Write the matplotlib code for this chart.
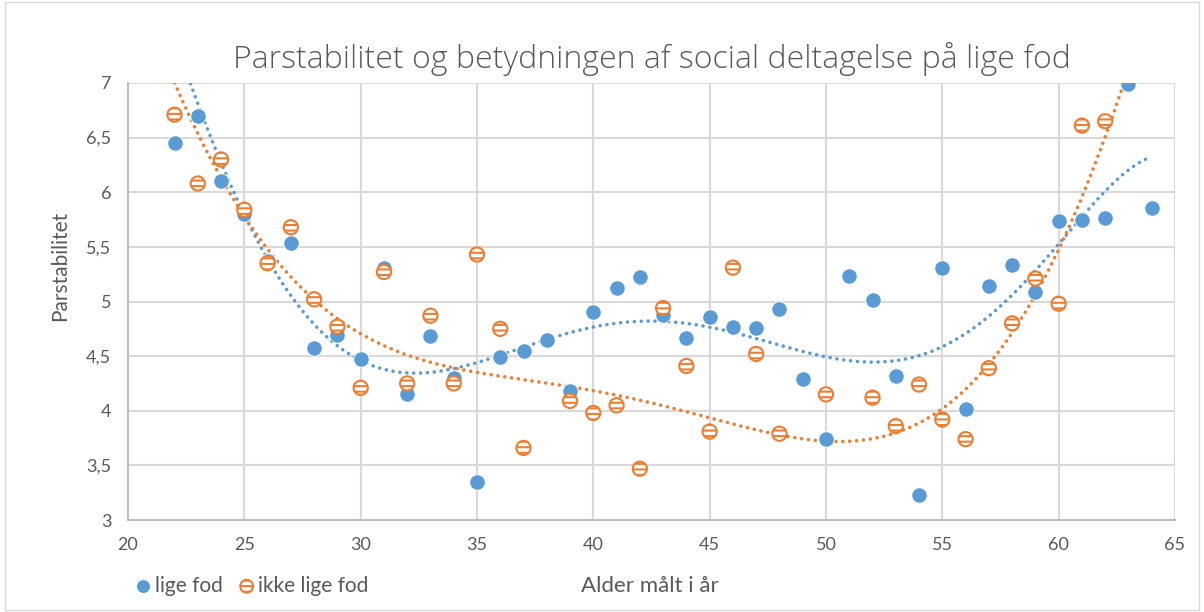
import numpy as np
import matplotlib.pyplot as plt
from matplotlib.patches import Rectangle

# lige fod (blue)
age_lige = [22, 23, 24, 25, 26, 27, 28, 29, 30, 31, 32, 33, 34, 35, 36, 37, 38, 39, 40, 41, 42,
            43, 44, 45, 46, 47, 48, 49, 50, 51, 52, 53, 54, 55, 56, 57, 58, 59, 60, 61, 62, 63, 64]
val_lige = [6.45, 6.70, 6.10, 5.80, 5.37, 5.54, 4.57, 4.69, 4.47, 5.31, 4.15, 4.68, 4.30, 3.35,
            4.49, 4.55, 4.65, 4.18, 4.90, 5.12, 5.22, 4.88, 4.67, 4.86, 4.77, 4.76, 4.93, 4.29,
            3.74, 5.23, 5.01, 4.32, 3.23, 5.31, 4.02, 5.14, 5.33, 5.09, 5.74, 5.75, 5.76, 6.99, 5.86]

# ikke lige fod (orange)
age_ikke = [22, 23, 24, 25, 26, 27, 28, 29, 30, 31, 32, 33, 34, 35, 36, 37, 39, 40, 41, 42, 43,
            44, 45, 46, 47, 48, 50, 52, 53, 54, 55, 56, 57, 58, 59, 60, 61, 62]
val_ikke = [6.71, 6.08, 6.30, 5.84, 5.35, 5.68, 5.02, 4.77, 4.21, 5.27, 4.25, 4.87, 4.25, 5.43,
            4.75, 3.66, 4.09, 3.98, 4.05, 3.47, 4.94, 4.41, 3.81, 5.31, 4.52, 3.79, 4.15, 4.12,
            3.86, 4.24, 3.92, 3.74, 4.39, 4.80, 5.21, 4.98, 6.61, 6.65]

# trendlines (polynomial)
trend_x_lige = [22.75, 23.5, 24.1, 25, 26, 27, 28, 29, 30, 32, 34, 36, 38, 40, 42, 44, 46, 48,
                50, 52, 54, 55, 57, 59, 60, 62, 64]
trend_lige = [6.97, 6.51, 6.20, 5.83, 5.41, 5.04, 4.79, 4.58, 4.46, 4.35, 4.37, 4.53, 4.65, 4.77,
              4.82, 4.79, 4.72, 4.60, 4.49, 4.45, 4.50, 4.58, 4.89, 5.26, 5.54, 6.00, 6.33]
trend_x_ikke = [22, 23, 24, 25, 26, 28, 30, 32, 34.3, 36, 38, 40, 42, 44, 45, 48, 50, 50.9, 52.4,
                55, 57, 59, 60, 62, 62.8]
trend_ikke = [7.00, 6.54, 6.11, 5.84, 5.44, 5.02, 4.71, 4.50, 4.37, 4.32, 4.26, 4.20, 4.10, 3.99,
              3.92, 3.77, 3.71, 3.71, 3.80, 4.03, 4.42, 5.01, 5.52, 6.50, 7.00]

blue = '#5B9BD5'
orange = '#ED7D31'
grey = '#595959'

plt.rcParams['font.family'] = ['Lato', 'DejaVu Sans']
plt.rcParams['hatch.linewidth'] = 1.5

fig = plt.figure(figsize=(12.04, 6.12), dpi=100)
ax = fig.add_axes([0.1063, 0.1503, 0.8696, 0.7141])

for tx, ty, col, x0, x1 in [(trend_x_lige, trend_lige, blue, 22, 64),
                            (trend_x_ikke, trend_ikke, orange, 22, 63)]:
    coef = np.polyfit(tx, ty, 6)
    xs = np.linspace(x0, x1, 400)
    ax.plot(xs, np.polyval(coef, xs), color=col, lw=2.6,
            linestyle=(0, (0.01, 1.9)), dash_capstyle='round', zorder=2)

ax.scatter(age_lige, val_lige, s=125, color=blue, edgecolors='white', linewidths=0.7,
           zorder=3, label='lige fod')
ax.scatter(age_ikke, val_ikke, s=105, facecolors='white', edgecolors=orange, linewidths=1.5,
           hatch='---', zorder=4, label='ikke lige fod')

ax.set_xlim(20, 65)
ax.set_ylim(3, 7)
ax.set_xticks(range(20, 70, 5))
ax.set_yticks(np.arange(3, 7.01, 0.5))
ax.set_yticklabels([f'{v:g}'.replace('.', ',') for v in np.arange(3, 7.01, 0.5)])
ax.grid(True, color='#D9D9D9', lw=1.5)
ax.set_axisbelow(True)
for s in ['top', 'right']:
    ax.spines[s].set_visible(False)
for s in ['left', 'bottom']:
    ax.spines[s].set_color('#BFBFBF')
    ax.spines[s].set_linewidth(1.5)
ax.tick_params(length=0, labelsize=13, labelcolor=grey, pad=12)

ax.set_title('Parstabilitet og betydningen af social deltagelse på lige fod',
             fontsize=23, color=grey, pad=11, family=['Open Sans', 'DejaVu Sans'],
             fontweight='light')
fig.text(0.05, 0.565, 'Parstabilitet', fontsize=15, color=grey, rotation=90,
         ha='center', va='center')
fig.text(0.54, 0.043, 'Alder målt i år', fontsize=16, color=grey, ha='center', va='center')

fig.legend(loc='center left', bbox_to_anchor=(0.094, 0.043), ncol=2, frameon=False,
           fontsize=15, labelcolor=grey, handletextpad=0.0, columnspacing=0.6,
           handlelength=1.1, markerscale=0.9)

fig.patches.append(Rectangle((0.004, 0.004), 0.992, 0.992, transform=fig.transFigure,
                             fill=False, edgecolor='#D9D9D9', lw=1))

fig.savefig('out.png', dpi=100)
